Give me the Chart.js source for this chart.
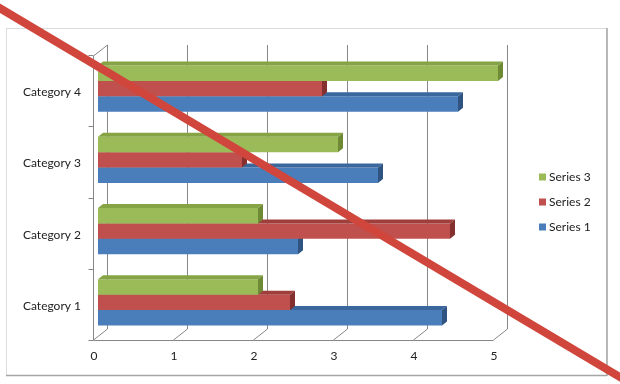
<!DOCTYPE html>
<html>
<head>
<meta charset="utf-8">
<script src="https://cdn.jsdelivr.net/npm/chart.js@4/dist/chart.umd.min.js"></script>
<style>
  html, body { margin: 0; padding: 0; background: #ffffff; }
  canvas { display: block; }
</style>
</head>
<body>
<canvas id="chart" width="620" height="384"></canvas>
<script>
// Chart values
const categories = ['Category 1', 'Category 2', 'Category 3', 'Category 4'];
const series1 = [4.3, 2.5, 3.5, 4.5];
const series2 = [2.4, 4.4, 1.8, 2.8];
const series3 = [2.0, 2.0, 3.0, 5.0];
const seriesNames = ['Series 1', 'Series 2', 'Series 3'];
const xTickValues = [0, 1, 2, 3, 4, 5];

// Face colours for the extruded bars: front, top, end
const palette = [
  { front: '#4a7ebb', top: '#3a679e', side: '#2f5482' },
  { front: '#c0504d', top: '#a03e3b', side: '#84302e' },
  { front: '#9bbb59', top: '#86a446', side: '#6f8a35' }
];

const FONT = 'Lato, "Liberation Sans", sans-serif';
const BAR_DX = 5, BAR_DY = 4;       // depth of each bar
const WALL_DX = 14, WALL_DY = 11;   // depth of the floor / side wall
const FRONT_SHIFT = -5;             // front edge of the floor relative to the bar base
const GRID = '#878787';

// Frame around the chart and the 3D walls / gridlines behind the bars
const backdrop = {
  id: 'backdrop',
  beforeDraw(chart) {
    const c = chart.ctx;
    c.save();
    c.fillStyle = '#ffffff';
    c.fillRect(0, 0, chart.width, chart.height);
    c.strokeStyle = '#dcdcdc';
    c.lineWidth = 1;
    c.strokeRect(6.5, 28.5, 600, 347);
    c.strokeStyle = '#a5a5a5';
    c.lineWidth = 1.5;
    c.beginPath();
    c.moveTo(607, 28); c.lineTo(607, 376);
    c.moveTo(6, 375.5); c.lineTo(607, 375.5);
    c.stroke();
    c.restore();
  },
  beforeDatasetsDraw(chart) {
    const c = chart.ctx;
    const xs = chart.scales.x;
    const area = chart.chartArea;
    const floorFront = area.bottom + 2;
    const floorBack = floorFront - WALL_DY;
    const wallTopFront = area.top + 3;
    const wallTopBack = wallTopFront - WALL_DY;
    c.save();
    c.strokeStyle = GRID;
    c.lineWidth = 1;
    c.beginPath();
    xTickValues.forEach(v => {
      const fx = Math.round(xs.getPixelForValue(v) + FRONT_SHIFT) + 0.5;
      const bx = fx + WALL_DX;
      // back-wall gridline and its diagonal on the floor
      c.moveTo(bx, wallTopBack);
      c.lineTo(bx, floorBack);
      c.lineTo(fx, floorFront);
    });
    // floor front edge
    const x0 = Math.round(xs.getPixelForValue(0) + FRONT_SHIFT) + 0.5;
    const x5 = Math.round(xs.getPixelForValue(5) + FRONT_SHIFT) + 0.5;
    c.moveTo(x0, floorFront + 0.5);
    c.lineTo(x5, floorFront + 0.5);
    // side wall front edge and top
    c.moveTo(x0, floorFront);
    c.lineTo(x0, wallTopFront);
    c.lineTo(x0 + WALL_DX, wallTopBack);
    // category tick marks on the side wall
    const band = (area.bottom - area.top) / categories.length;
    for (let k = 0; k <= categories.length; k++) {
      const y = Math.round(area.top + 2 + k * band) + 0.5;
      c.moveTo(x0 - 5, y);
      c.lineTo(x0, y);
    }
    c.stroke();
    c.restore();
  },
  // top and end faces drawn right after each series' front faces
  afterDatasetDraw(chart, args) {
    const c = chart.ctx;
    const pal = palette[args.index];
    c.save();
    args.meta.data.forEach(bar => {
      const p = bar.getProps(['x', 'y', 'base', 'height'], true);
      const top = p.y - p.height / 2;
      const bottom = p.y + p.height / 2;
      c.fillStyle = pal.top;
      c.beginPath();
      c.moveTo(p.base, top);
      c.lineTo(p.x, top);
      c.lineTo(p.x + BAR_DX, top - BAR_DY);
      c.lineTo(p.base + BAR_DX, top - BAR_DY);
      c.closePath();
      c.fill();
      c.fillStyle = pal.side;
      c.beginPath();
      c.moveTo(p.x, top);
      c.lineTo(p.x + BAR_DX, top - BAR_DY);
      c.lineTo(p.x + BAR_DX, bottom - BAR_DY);
      c.lineTo(p.x, bottom);
      c.closePath();
      c.fill();
    });
    c.restore();
  },
  afterDraw(chart) {
    const c = chart.ctx;
    c.save();
    // legend, top entry = last series
    c.font = '12px ' + FONT;
    c.textBaseline = 'middle';
    c.textAlign = 'left';
    const ds = chart.data.datasets;
    for (let i = ds.length - 1, row = 0; i >= 0; i--, row++) {
      const y = 177 + row * 25;
      c.fillStyle = palette[i].front;
      c.fillRect(539, y - 3.5, 7, 7);
      c.fillStyle = '#222222';
      c.fillText(ds[i].label, 549, y);
    }
    // red strike-through across the whole picture
    c.strokeStyle = '#d0463c';
    c.lineWidth = 8;
    c.lineCap = 'butt';
    c.beginPath();
    c.moveTo(-10, 2.3);
    c.lineTo(630, 383);
    c.stroke();
    c.restore();
  }
};

const datasets = [series1, series2, series3].map((vals, i) => ({
  label: seriesNames[i],
  data: vals,
  backgroundColor: palette[i].front,
  borderWidth: 0,
  order: 3 - i
}));

new Chart(document.getElementById('chart'), {
  type: 'bar',
  data: { labels: categories, datasets },
  plugins: [backdrop],
  options: {
    indexAxis: 'y',
    responsive: false,
    animation: false,
    layout: { padding: { left: 0, top: 53, right: 122, bottom: 0 } },
    datasets: { bar: { barPercentage: 1, categoryPercentage: 0.65 } },
    plugins: { legend: { display: false }, tooltip: { enabled: false } },
    scales: {
      x: {
        min: 0, max: 5,
        grid: { display: false, drawTicks: false },
        border: { display: false },
        afterFit(scale) { scale.height = 46; },
        afterBuildTicks(scale) { scale.ticks = xTickValues.map(v => ({ value: v })); },
        ticks: {
          padding: 11,
          labelOffset: -4,
          color: '#222222',
          font: { family: FONT, size: 12 }
        }
      },
      y: {
        reverse: true,
        grid: { display: false, drawTicks: false },
        border: { display: false },
        afterFit(scale) { scale.width = 98; },
        ticks: {
          padding: 17,
          labelOffset: 3.5,
          color: '#222222',
          font: { family: FONT, size: 12 }
        }
      }
    }
  }
});
</script>
</body>
</html>
